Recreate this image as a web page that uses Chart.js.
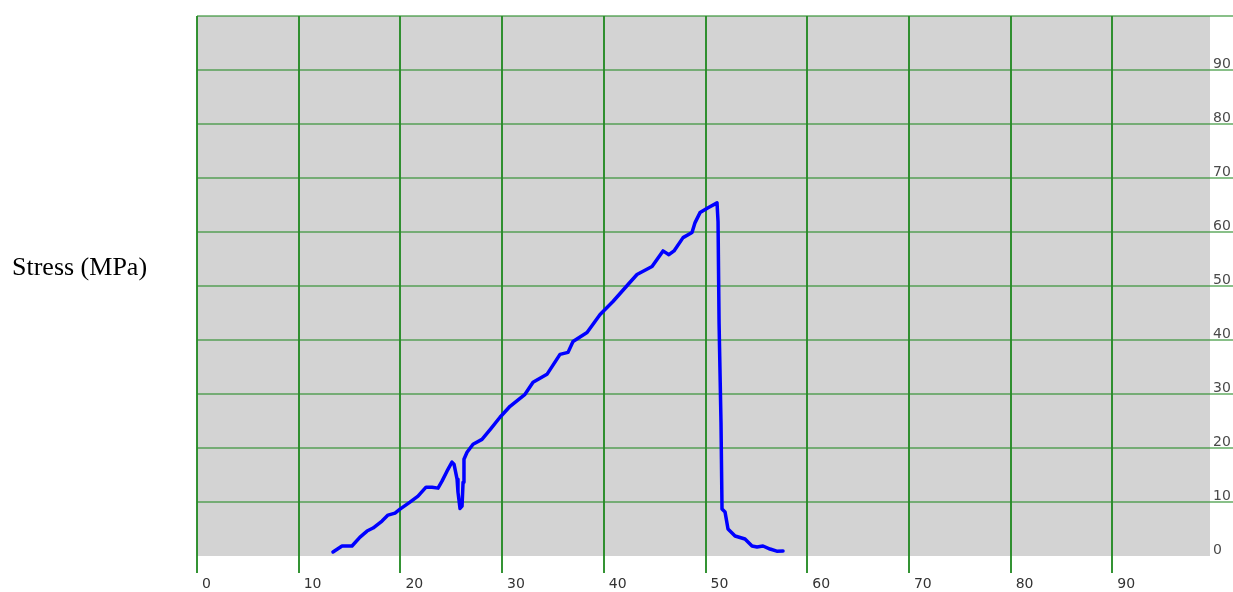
<!DOCTYPE html>
<html>
<head>
<meta charset="utf-8">
<script src="https://cdn.jsdelivr.net/npm/chart.js@4/dist/chart.umd.min.js"></script>
<style>
  html, body { margin: 0; padding: 0; background: #ffffff; }
  #wrap { position: relative; width: 1233px; height: 592px; }
  canvas { display: block; }
</style>
</head>
<body>
<div id="wrap"><canvas id="c" width="1233" height="592"></canvas></div>
<script>
// Data
const strainX = [13.37, 14.26, 15.24, 16.03, 16.72, 17.31, 18.19, 18.78, 19.47, 19.96,
  20.94, 21.73, 22.52, 23.11, 23.70, 24.09, 24.58, 25.07, 25.27, 25.57,
  25.66, 25.86, 26.06, 26.16, 26.25, 26.55, 27.14, 28.02, 28.9, 29.79,
  30.78, 32.25, 33.04, 34.41, 35.69, 36.48, 36.97, 38.35, 39.63, 40.9,
  42.38, 43.26, 44.74, 45.82, 46.4, 46.9, 47.79, 48.67, 48.97, 49.46,
  50.25, 51.13, 51.23, 51.33, 51.52, 51.62, 51.92, 52.21, 52.9, 53.88,
  54.57, 55.06, 55.65, 56.34, 57.0, 57.62];
const stressY = [0.74, 1.85, 1.85, 3.51, 4.62, 5.18, 6.47, 7.58, 7.95, 8.69,
  9.98, 11.09, 12.75, 12.75, 12.57, 13.86, 15.71, 17.38, 17.0, 14.23,
  11.83, 8.8, 9.24, 13.68, 17.93, 19.22, 20.7, 21.6, 23.6, 25.69,
  27.73, 29.94, 32.16, 33.64, 37.34, 37.71, 39.74, 41.4, 44.73, 47.13,
  50.28, 52.13, 53.6, 56.5, 55.8, 56.5, 58.96, 59.89, 61.74, 63.59,
  64.5, 65.4, 61.9, 43.25, 24.77, 8.69, 8.13, 4.99, 3.7, 3.14,
  1.85, 1.66, 1.85, 1.29, 0.9, 0.92];
const xTickValues = [0, 10, 20, 30, 40, 50, 60, 70, 80, 90];
const yTickValues = [0, 10, 20, 30, 40, 50, 60, 70, 80, 90, 100];
const yAxisLabel = 'Stress (MPa)';

const points = strainX.map((x, i) => ({ x: x, y: stressY[i] }));

const bgPlugin = {
  id: 'plotBg',
  beforeDraw(chart) {
    const { ctx, chartArea: a } = chart;
    ctx.save();
    ctx.fillStyle = '#d3d3d3';
    ctx.fillRect(a.left, a.top, a.right - a.left, a.bottom - a.top);
    ctx.restore();
  }
};

const labelPlugin = {
  id: 'sideLabel',
  afterDraw(chart) {
    const ctx = chart.ctx;
    ctx.save();
    ctx.fillStyle = '#000000';
    ctx.font = '26px "Liberation Serif", "Times New Roman", serif';
    ctx.textAlign = 'left';
    ctx.textBaseline = 'middle';
    ctx.fillText(yAxisLabel, 12, 268);
    ctx.restore();
  }
};

new Chart(document.getElementById('c'), {
  type: 'line',
  data: {
    datasets: [{
      data: points,
      borderColor: '#0000ff',
      borderWidth: 3.5,
      pointRadius: 0,
      tension: 0,
      borderJoinStyle: 'round',
      borderCapStyle: 'round',
      fill: false
    }]
  },
  options: {
    responsive: false,
    animation: false,
    layout: { padding: { left: 197, top: 16, right: 0, bottom: 0 } },
    plugins: { legend: { display: false }, tooltip: { enabled: false } },
    scales: {
      x: {
        type: 'linear',
        min: 0, max: 99.6,
        afterFit(s) { s.height = 36; },
        afterBuildTicks(s) { s.ticks = xTickValues.map(v => ({ value: v })); },
        border: { display: false },
        grid: {
          color: 'rgba(30,135,30,0.9)',
          lineWidth: 2,
          tickLength: 17
        },
        ticks: {
          autoSkip: false,
          maxRotation: 0,
          align: 'start',
          labelOffset: 5,
          padding: 3,
          color: '#333333',
          font: { family: '"DejaVu Sans", Verdana, sans-serif', size: 14 },
          callback: v => String(v)
        }
      },
      y: {
        type: 'linear',
        position: 'right',
        min: 0, max: 100,
        afterFit(s) { s.width = 23; },
        afterBuildTicks(s) { s.ticks = yTickValues.map(v => ({ value: v })); },
        border: { display: false },
        grid: {
          color: c => (c.tick && c.tick.value === 0) ? 'rgba(0,0,0,0)' : 'rgba(40,140,40,0.55)',
          lineWidth: 2,
          tickLength: 23
        },
        ticks: {
          autoSkip: false,
          padding: -20,
          labelOffset: -6,
          color: '#4a4a4a',
          font: { family: '"DejaVu Sans", Verdana, sans-serif', size: 14 },
          callback: v => v === 100 ? '' : String(v)
        }
      }
    }
  },
  plugins: [bgPlugin, labelPlugin]
});
</script>
</body>
</html>
